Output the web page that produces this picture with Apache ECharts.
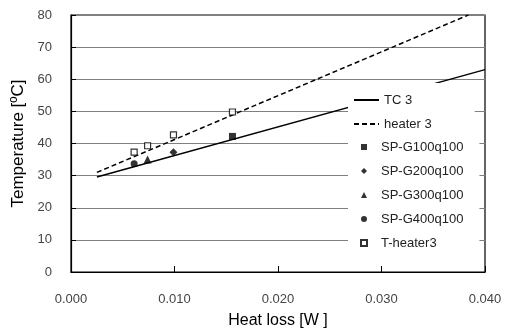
<!DOCTYPE html>
<html><head><meta charset="utf-8">
<script src="https://cdn.jsdelivr.net/npm/echarts@6/dist/echarts.min.js"></script>
<style>html,body{margin:0;padding:0;background:#fff}#c{width:505px;height:334px}</style>
</head><body><div id="c"></div>
<script>
const xTicks = [0, 0.01, 0.02, 0.03, 0.04];
const tc3 = [[0.0025, 29.6], [0.040, 63.0]];
const heater3 = [[0.0025, 31.0], [0.0384, 80.0]];
const spG100 = [[0.0156, 42.2]];
const spG200 = [[0.0099, 37.3]];
const spG300 = [[0.0074, 35.0]];
const spG400 = [[0.0061, 33.7]];
const tHeater3 = [[0.0061, 37.3], [0.0074, 39.3], [0.0099, 42.7], [0.0156, 49.8]];

const chart = echarts.init(document.getElementById('c'), null, {renderer: 'canvas'});
const font = 'Arial, "Liberation Sans", sans-serif';
const legendText = {fontSize: 13, color: '#222', fontFamily: font, lineHeight: 14};
chart.setOption({
  animation: false,
  grid: {left: 71, top: 15, right: 20, bottom: 59, show: true, borderColor: '#000', borderWidth: 1.2, backgroundColor: 'transparent'},
  xAxis: {
    type: 'value', min: 0, max: 0.04, interval: 0.01,
    name: 'Heat loss [W ]', nameLocation: 'middle', nameGap: 41,
    nameTextStyle: {fontSize: 16, color: '#000', fontFamily: font},
    axisLine: {lineStyle: {color: '#000', width: 1.2}},
    axisTick: {inside: true, length: 6, lineStyle: {color: '#000'}},
    axisLabel: {margin: 21, fontSize: 13, color: '#444', fontFamily: font, formatter: v => v.toFixed(3)},
    splitLine: {show: false}
  },
  yAxis: {
    type: 'value', min: 0, max: 80, interval: 10,
    name: 'Temperature [ºC]', nameLocation: 'middle', nameGap: 38, nameRotate: 90,
    nameTextStyle: {fontSize: 17, color: '#000', fontFamily: font},
    axisLine: {lineStyle: {color: '#000', width: 1.2}},
    axisTick: {inside: true, length: 5, lineStyle: {color: '#000'}},
    axisLabel: {margin: 19, fontSize: 13, color: '#444', fontFamily: font},
    splitLine: {lineStyle: {color: '#808080', width: 1}}
  },
  legend: [
    {
      left: 348, top: 83, orient: 'vertical', backgroundColor: '#fff',
      padding: [10, 43, 5, 5], itemWidth: 25, itemHeight: 2, itemGap: 10,
      itemStyle: {opacity: 0},
      textStyle: legendText,
      data: ['TC 3', 'heater 3']
    },
    {
      left: 348, top: 136, orient: 'vertical', backgroundColor: '#fff',
      padding: [4, 16, 10, 12], itemWidth: 6, itemHeight: 6, itemGap: 10,
      textStyle: Object.assign({padding: [0, 0, 0, 9]}, legendText),
      data: ['SP-G100q100', 'SP-G200q100', 'SP-G300q100', 'SP-G400q100', 'T-heater3']
    }
  ],
  series: [
    {name: 'TC 3', type: 'line', data: tc3, symbol: 'none', lineStyle: {color: '#000', width: 1.5}, itemStyle: {color: '#000'}, z: 3},
    {name: 'heater 3', type: 'line', data: heater3, symbol: 'none', lineStyle: {color: '#000', width: 1.5, type: [5, 3]}, itemStyle: {color: '#000'}, z: 3},
    {name: 'SP-G100q100', type: 'scatter', data: spG100, symbol: 'rect', symbolSize: 7, itemStyle: {color: '#000'}, z: 3},
    {name: 'SP-G200q100', type: 'scatter', data: spG200, symbol: 'diamond', symbolSize: 8, itemStyle: {color: '#000'}, z: 3},
    {name: 'SP-G300q100', type: 'scatter', data: spG300, symbol: 'triangle', symbolSize: 8, itemStyle: {color: '#000'}, z: 3},
    {name: 'SP-G400q100', type: 'scatter', data: spG400, symbol: 'circle', symbolSize: 7, itemStyle: {color: '#000'}, z: 3},
    {name: 'T-heater3', type: 'scatter', data: tHeater3, symbol: 'rect', symbolSize: 6, itemStyle: {color: '#fff', borderColor: '#000', borderWidth: 1.2}, z: 3}
  ]
});
</script></body></html>
